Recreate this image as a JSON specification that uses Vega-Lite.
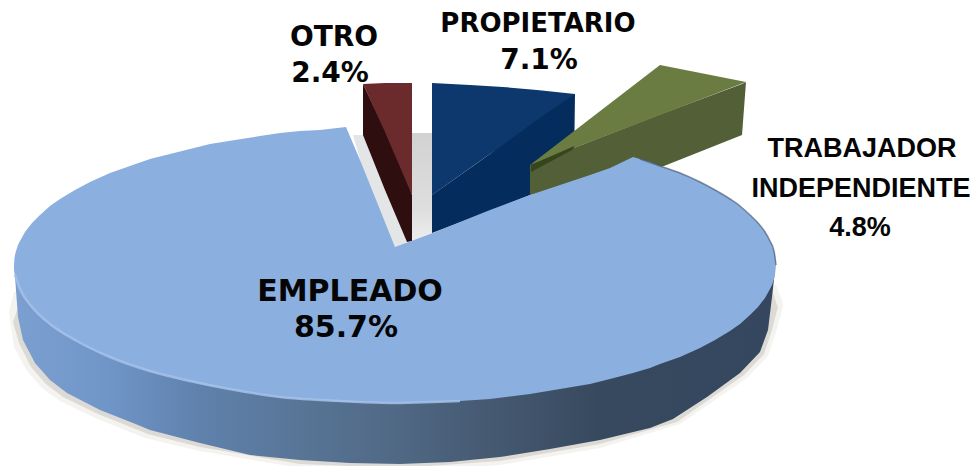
{"$schema":"https://vega.github.io/schema/vega-lite/v6.json","width":976,"height":466,"autosize":"none","padding":0,"background":"white","config":{"view":{"stroke":null}},
"datasets":{
"shadowOuter":[{"x":9,"y":312,"y2":312},{"x":14,"y":292,"y2":347},{"x":27,"y":285,"y2":371},{"x":42,"y":285,"y2":388},{"x":60,"y":285,"y2":401},{"x":95,"y":285,"y2":418},{"x":145,"y":285,"y2":438},{"x":200,"y":285,"y2":451},{"x":300,"y":285,"y2":468},{"x":400,"y":285,"y2":472},{"x":500,"y":285,"y2":465},{"x":600,"y":285,"y2":448},{"x":680,"y":285,"y2":424},{"x":747,"y":285,"y2":378},{"x":768,"y":285,"y2":356},{"x":776,"y":285,"y2":332},{"x":782,"y":300,"y2":310},{"x":783,"y":305,"y2":305}],
"shadowInner":[{"x":13,"y":322,"y2":322},{"x":19,"y":305,"y2":343},{"x":31,"y":285,"y2":367},{"x":46,"y":285,"y2":384},{"x":63,"y":285,"y2":397},{"x":98,"y":285,"y2":414},{"x":148,"y":285,"y2":434},{"x":200,"y":285,"y2":447},{"x":300,"y":285,"y2":464},{"x":400,"y":285,"y2":468},{"x":500,"y":285,"y2":461},{"x":600,"y":285,"y2":444},{"x":677,"y":285,"y2":422},{"x":744,"y":285,"y2":375},{"x":764,"y":285,"y2":354},{"x":772,"y":290,"y2":330},{"x":777,"y":305,"y2":310},{"x":778,"y":308,"y2":308}],
"band":[{"x":14,"y":265,"y2":265},{"x":15,"y":265,"y2":277},{"x":18,"y":265,"y2":317},{"x":23,"y":265,"y2":340},{"x":35,"y":265,"y2":363},{"x":50,"y":265,"y2":380},{"x":67,"y":265,"y2":393},{"x":100,"y":265,"y2":410},{"x":133,"y":265,"y2":423},{"x":150,"y":265,"y2":430},{"x":200,"y":265,"y2":443},{"x":250,"y":265,"y2":455},{"x":300,"y":265,"y2":460},{"x":350,"y":265,"y2":463},{"x":400,"y":265,"y2":464},{"x":450,"y":265,"y2":462},{"x":500,"y":265,"y2":457},{"x":550,"y":265,"y2":449},{"x":600,"y":265,"y2":440},{"x":650,"y":265,"y2":428},{"x":673,"y":265,"y2":419},{"x":707,"y":265,"y2":397},{"x":740,"y":265,"y2":373},{"x":760,"y":265,"y2":352},{"x":768,"y":265,"y2":330},{"x":772,"y":265,"y2":297},{"x":775,"y":265,"y2":270}],
"top":[{"x":14,"y":265,"y2":265},{"x":14.5,"y":258,"y2":272},{"x":15,"y":255,"y2":275},{"x":16,"y":251,"y2":279},{"x":18,"y":245,"y2":285},{"x":20,"y":241,"y2":289},{"x":25,"y":232,"y2":298},{"x":32,"y":223,"y2":307},{"x":40,"y":215,"y2":315},{"x":50,"y":206,"y2":324},{"x":60,"y":199,"y2":331},{"x":75,"y":190,"y2":340},{"x":90,"y":182,"y2":348},{"x":110,"y":173,"y2":357},{"x":130,"y":166,"y2":364},{"x":150,"y":159,"y2":371},{"x":170,"y":154,"y2":376},{"x":190,"y":149,"y2":381},{"x":210,"y":144,"y2":386},{"x":235,"y":140,"y2":390},{"x":260,"y":136,"y2":394},{"x":280,"y":133,"y2":397},{"x":300,"y":131,"y2":399},{"x":320,"y":130,"y2":400},{"x":346,"y":127,"y2":402},{"x":360,"y":160,"y2":402},{"x":395,"y":247,"y2":403},{"x":433,"y":233,"y2":402},{"x":460,"y":222,"y2":401},{"x":490,"y":210,"y2":399},{"x":530,"y":195,"y2":394},{"x":560,"y":185,"y2":389},{"x":590,"y":175,"y2":384},{"x":610,"y":168,"y2":379},{"x":633,"y":157,"y2":373},{"x":650,"y":162,"y2":368},{"x":660,"y":166,"y2":364},{"x":680,"y":173,"y2":357},{"x":700,"y":182,"y2":348},{"x":715,"y":190,"y2":340},{"x":730,"y":199,"y2":331},{"x":740,"y":206,"y2":324},{"x":750,"y":215,"y2":315},{"x":758,"y":223,"y2":307},{"x":765,"y":232,"y2":298},{"x":770,"y":241,"y2":289},{"x":772,"y":245,"y2":285},{"x":774,"y":251,"y2":279},{"x":775,"y":255,"y2":275},{"x":776,"y":265,"y2":265}],
"wallLeft":[{"x":353,"y":135,"y2":135},{"x":363,"y":135,"y2":170},{"x":395,"y":197,"y2":247},{"x":407,"y":243,"y2":246}],
"wallCenter":[{"x":412,"y":133,"y2":242},{"x":433,"y":133,"y2":234},{"x":490,"y":185,"y2":211},{"x":532,"y":175,"y2":196}],
"blueWall":[{"x":432,"y":195,"y2":233},{"x":490,"y":154,"y2":211},{"x":530,"y":122,"y2":195},{"x":574,"y":94,"y2":165},{"x":575,"y":94,"y2":94}],
"blueTop":[{"x":432,"y":83,"y2":195},{"x":470,"y":85,"y2":168},{"x":503,"y":87,"y2":145},{"x":537,"y":90,"y2":120},{"x":575,"y":94,"y2":94}],
"redWall":[{"x":363,"y":84,"y2":135},{"x":385,"y":130,"y2":190},{"x":407,"y":180,"y2":242},{"x":412,"y":195,"y2":241}],
"redTop":[{"x":363,"y":84,"y2":84},{"x":385,"y":83,"y2":132},{"x":412,"y":83,"y2":195}],
"oliveWall":[{"x":530,"y":165,"y2":195},{"x":633,"y":125,"y2":172},{"x":664,"y":113,"y2":166},{"x":742,"y":84,"y2":135},{"x":746,"y":82,"y2":82}],
"oliveTop":[{"x":530,"y":165,"y2":165},{"x":660,"y":65,"y2":115},{"x":746,"y":82,"y2":82}],
"oliveDark":[{"x":531,"y":165,"y2":172},{"x":572,"y":147,"y2":150},{"x":575,"y":146,"y2":146}],
"rimLight":[{"x":15,"y":275},{"x":20,"y":289},{"x":32,"y":307},{"x":50,"y":324},{"x":75,"y":340},{"x":110,"y":357},{"x":150,"y":371},{"x":190,"y":381},{"x":235,"y":390},{"x":280,"y":397},{"x":320,"y":400},{"x":360,"y":402},{"x":395,"y":403},{"x":433,"y":402},{"x":460,"y":401}],
"rimDark":[{"x":640,"y":159},{"x":660,"y":166},{"x":680,"y":173},{"x":700,"y":182},{"x":715,"y":190},{"x":730,"y":199},{"x":740,"y":206},{"x":750,"y":215},{"x":758,"y":223},{"x":765,"y":232},{"x":770,"y":241},{"x":774,"y":251},{"x":776,"y":265}],
"labelsA":[{"t":"OTRO","x":334,"y":46},{"t":"2.4%","x":330,"y":82},{"t":"7.1%","x":539,"y":69}],
"labelsB":[{"t":"PROPIETARIO","x":538,"y":32}],
"labelsC":[{"t":"EMPLEADO","x":350,"y":301},{"t":"85.7%","x":346,"y":337}],
"labelsD":[{"t":"TRABAJADOR","x":862,"y":157},{"t":"INDEPENDIENTE","x":861,"y":197},{"t":"4.8%","x":860,"y":236}]
},
"encoding":{"x":{"field":"x","type":"quantitative","scale":{"domain":[0,976],"nice":false,"zero":false},"axis":null},"y":{"field":"y","type":"quantitative","scale":{"domain":[466,0],"nice":false,"zero":false},"axis":null}},
"layer":[
{"data":{"name":"shadowOuter"},"mark":{"type":"area","orient":"vertical","fill":"#eeebe6","opacity":0.6},"encoding":{"y2":{"field":"y2"}}},
{"data":{"name":"shadowInner"},"mark":{"type":"area","orient":"vertical","fill":"#d2cec8","opacity":0.7},"encoding":{"y2":{"field":"y2"}}},
{"data":{"name":"band"},"mark":{"type":"area","orient":"vertical","fill":{"gradient":"linear","x1":0,"y1":0,"x2":1,"y2":0,"stops":[{"offset":0,"color":"#7c9fd0"},{"offset":0.12,"color":"#7096c8"},{"offset":0.244,"color":"#5f81ac"},{"offset":0.376,"color":"#587596"},{"offset":0.507,"color":"#506884"},{"offset":0.639,"color":"#44586f"},{"offset":0.77,"color":"#37495f"},{"offset":1,"color":"#35475e"}]}},"encoding":{"y2":{"field":"y2"}}},
{"data":{"name":"wallLeft"},"mark":{"type":"area","orient":"vertical","fill":"#e4e5e6"},"encoding":{"y2":{"field":"y2"}}},
{"data":{"name":"wallCenter"},"mark":{"type":"area","orient":"vertical","fill":{"gradient":"linear","x1":0,"y1":0,"x2":0,"y2":1,"stops":[{"offset":0,"color":"#d2d2d2"},{"offset":0.7,"color":"#dedede"},{"offset":1,"color":"#eeeeee"}]}},"encoding":{"y2":{"field":"y2"}}},
{"data":{"name":"blueWall"},"mark":{"type":"area","orient":"vertical","fill":"#042c5c"},"encoding":{"y2":{"field":"y2"}}},
{"data":{"name":"blueTop"},"mark":{"type":"area","orient":"vertical","fill":"#0c386e"},"encoding":{"y2":{"field":"y2"}}},
{"data":{"name":"redWall"},"mark":{"type":"area","orient":"vertical","fill":"#2e0e0f"},"encoding":{"y2":{"field":"y2"}}},
{"data":{"name":"redTop"},"mark":{"type":"area","orient":"vertical","fill":"#6b2a2b"},"encoding":{"y2":{"field":"y2"}}},
{"data":{"name":"oliveWall"},"mark":{"type":"area","orient":"vertical","fill":"#525f37"},"encoding":{"y2":{"field":"y2"}}},
{"data":{"name":"oliveTop"},"mark":{"type":"area","orient":"vertical","fill":"#6a7c42"},"encoding":{"y2":{"field":"y2"}}},
{"data":{"name":"oliveDark"},"mark":{"type":"area","orient":"vertical","fill":"#37451f"},"encoding":{"y2":{"field":"y2"}}},
{"data":{"name":"top"},"mark":{"type":"area","orient":"vertical","fill":"#8bafdf"},"encoding":{"y2":{"field":"y2"}}},
{"data":{"name":"rimLight"},"mark":{"type":"line","stroke":"#a6c2ea","strokeWidth":2.5,"opacity":0.85,"interpolate":"monotone"}},
{"data":{"name":"rimDark"},"mark":{"type":"line","stroke":"#4a5d78","strokeWidth":1.5,"opacity":0.7,"interpolate":"monotone"}},
{"data":{"name":"labelsA"},"mark":{"type":"text","font":"DejaVu Sans","fontWeight":"bold","fontSize":28,"align":"center","baseline":"alphabetic","fill":"#050505"},"encoding":{"text":{"field":"t"}}},
{"data":{"name":"labelsB"},"mark":{"type":"text","font":"DejaVu Sans","fontWeight":"bold","fontSize":26,"align":"center","baseline":"alphabetic","fill":"#050505"},"encoding":{"text":{"field":"t"}}},
{"data":{"name":"labelsC"},"mark":{"type":"text","font":"DejaVu Sans","fontWeight":"bold","fontSize":30,"align":"center","baseline":"alphabetic","fill":"#050505"},"encoding":{"text":{"field":"t"}}},
{"data":{"name":"labelsD"},"mark":{"type":"text","font":"Liberation Sans","fontWeight":"bold","fontSize":27,"align":"center","baseline":"alphabetic","fill":"#050505"},"encoding":{"text":{"field":"t"}}}
]}
